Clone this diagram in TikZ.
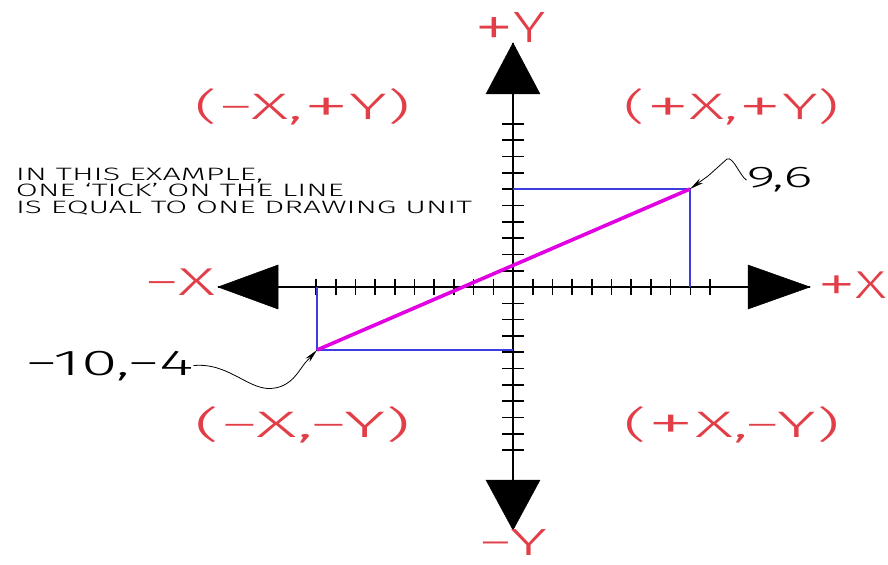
\documentclass[tikz,border=0pt]{standalone}
\usepackage{fontspec}
\setmainfont{Fira Sans Light}
\usetikzlibrary{arrows.meta}
\definecolor{lblred}{RGB}{226,62,72}
\definecolor{rectblue}{RGB}{60,60,225}
\definecolor{linemag}{RGB}{225,0,225}
\newcommand{\fittxt}[3]{\resizebox{#1bp}{\height}{\fontsize{#2}{#2}\selectfont #3}}
\newcommand{\pl}{\raisebox{-0.08em}{\scalebox{1.3}{+}}}
\begin{document}
\begin{tikzpicture}[x=1bp,y=-1bp,
  lbl/.style={inner sep=0pt, outer sep=0pt, anchor=base},
  redlbl/.style={lbl, text=lblred},
  axis/.style={line width=1.8bp, black},
  tickmark/.style={line width=1.6bp, black},
  head/.style={fill=black, draw=black, line width=0.5bp, line join=miter},
  guide/.style={line width=1.4bp, rectblue},
  vec/.style={line width=3.6bp, linemag},
  leader/.style={line width=0.8bp, black, -{Stealth[length=14bp,width=5.5bp]}}]
\useasboundingbox (0,0) rectangle (888,565);

% key points
\coordinate (O) at (513,287);
\coordinate (Xl) at (218,287);
\coordinate (Xr) at (810,287);
\coordinate (Yt) at (513,43);
\coordinate (Yb) at (513,530);
\coordinate (P1) at (317,350);
\coordinate (P2) at (690,189);
\coordinate (P1x) at (317,287);
\coordinate (P1y) at (513,350);
\coordinate (P2x) at (690,287);
\coordinate (P2y) at (513,189);

% axes
\draw[axis] (Xl) -- (Xr);
\draw[axis] (Yt) -- (Yb);
\foreach \k in {-10,...,-1,1,2,...,10} {
  \draw[tickmark] ({513+\k*19.7},279) -- ({513+\k*19.7},295);
  \draw[tickmark] (502,{287-\k*16.3}) -- (524,{287-\k*16.3});
}
% arrowheads
\filldraw[head] (Xl) -- (278,265) -- (278,309) -- cycle;
\filldraw[head] (Xr) -- (748,265) -- (748,309) -- cycle;
\filldraw[head] (Yt) -- (486,94) -- (540,94) -- cycle;
\filldraw[head] (Yb) -- (486,480) -- (540,480) -- cycle;

% guides and vector
\draw[guide] (P1x) -- (P1) -- (P1y);
\draw[guide] (P2y) -- (P2) -- (P2x);
\draw[vec] (P1) -- (P2);

% axis labels
\node[redlbl] (lpy) at (510,43) {\fittxt{72}{44}{\pl Y}};
\node[redlbl] (lmy) at (513,555) {\fittxt{68}{38}{−Y}};
\node[redlbl] (lmx) at (180,295) {\fittxt{70}{39}{−X}};
\node[redlbl] (lpx) at (852,298) {\fittxt{70}{39}{\pl X}};

% quadrant labels
\node[redlbl] (q2) at (303,120) {\fittxt{216}{37}{(−X,\pl Y)}};
\node[redlbl] (q1) at (732,120) {\fittxt{216}{37}{(\pl X,\pl Y)}};
\node[redlbl] (q3) at (303,437) {\fittxt{216}{37}{(−X,−Y)}};
\node[redlbl] (q4) at (732,437) {\fittxt{216}{37}{(\pl X,−Y)}};

% note
\node[lbl, anchor=base west] (n1) at (16,180.5) {\fittxt{247}{18}{IN THIS EXAMPLE,}};
\node[lbl, anchor=base west] (n2) at (16,197) {\fittxt{328}{18}{ONE `TICK' ON THE LINE}};
\node[lbl, anchor=base west] (n3) at (16,213.5) {\fittxt{456}{18}{IS EQUAL TO ONE DRAWING UNIT}};

% point labels and leaders
\node[lbl] (t96) at (779.5,188) {\fittxt{66}{30}{9,6}};
\node[lbl] (t104) at (109.5,375) {\fittxt{168}{36}{−10,−4}};
\draw[leader] (t96.west) .. controls (740,176) and (733,156) .. (727,159) -- (708,176) -- (P2);
\draw[leader] (t104.east) .. controls (230,362) and (250,393) .. (275,388)
  .. controls (292,385) and (298,372) .. (305,363) -- (P1);
\end{tikzpicture}
\end{document}
